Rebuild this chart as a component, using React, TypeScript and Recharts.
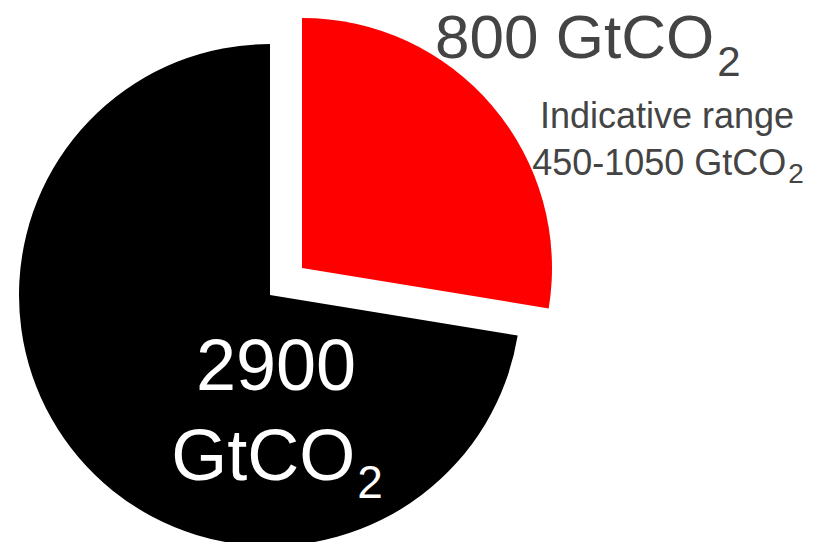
import React from "react";
import { PieChart, Pie, Cell } from "recharts";

const SLICE_NAMES = ["Remaining", "Used"];
const SLICE_VALUES = [800, 2100];
const TOTAL_LABEL = "2900";
const REMAINING_LABEL = "800";
const RANGE_LABEL = "450-1050";

const RED = "#ff0000";
const GREY = "#444444";

const data = SLICE_NAMES.map((name, i) => ({ name, value: SLICE_VALUES[i] }));

const FONT = "'Liberation Sans', Arial, sans-serif";

function usedLabel(props: any) {
  if (props.index !== 1) return null;
  const { cx, cy } = props;
  return (
    <g key="used-label" fontFamily={FONT} fill="#ffffff">
      <text x={cx + 6} y={cy + 95} textAnchor="middle" fontSize={72}>
        {TOTAL_LABEL}
      </text>
      <text x={cx + 7} y={cy + 185} textAnchor="middle" fontSize={72}>
        GtCO
        <tspan fontSize={46} dx={2} dy={18}>2</tspan>
      </text>
    </g>
  );
}

function remainingLabel(props: any) {
  if (props.index !== 0) return null;
  const { cx, cy } = props;
  return (
    <g key="remaining-label" fontFamily={FONT} fill={GREY}>
      <text x={cx + 133} y={cy - 210} textAnchor="start" fontSize={62}>
        {REMAINING_LABEL} GtCO
        <tspan fontSize={42} dx={3} dy={18}>2</tspan>
      </text>
      <text x={cx + 365} y={cy - 140} textAnchor="middle" fontSize={36}>
        Indicative range
      </text>
      <text x={cx + 366} y={cy - 93} textAnchor="middle" fontSize={36}>
        {RANGE_LABEL} GtCO
        <tspan fontSize={28} dx={2} dy={8}>2</tspan>
      </text>
    </g>
  );
}

export default function App() {
  return (
    <div style={{ position: "absolute", left: 0, top: 0, width: 813, height: 542, background: "#fff" }}>
      <PieChart width={813} height={542} margin={{ top: 0, right: 0, bottom: 0, left: 0 }}>
        <Pie
          data={data}
          dataKey="value"
          cx={270}
          cy={295}
          outerRadius={251}
          startAngle={90}
          endAngle={-270}
          stroke="none"
          label={usedLabel}
          labelLine={false}
          isAnimationActive={false}
        >
          <Cell fill="none" />
          <Cell fill="#000000" />
        </Pie>
        <Pie
          data={data}
          dataKey="value"
          cx={302}
          cy={268}
          outerRadius={250}
          startAngle={90}
          endAngle={-270}
          stroke="none"
          label={remainingLabel}
          labelLine={false}
          isAnimationActive={false}
        >
          <Cell fill={RED} />
          <Cell fill="none" />
        </Pie>
      </PieChart>
    </div>
  );
}
